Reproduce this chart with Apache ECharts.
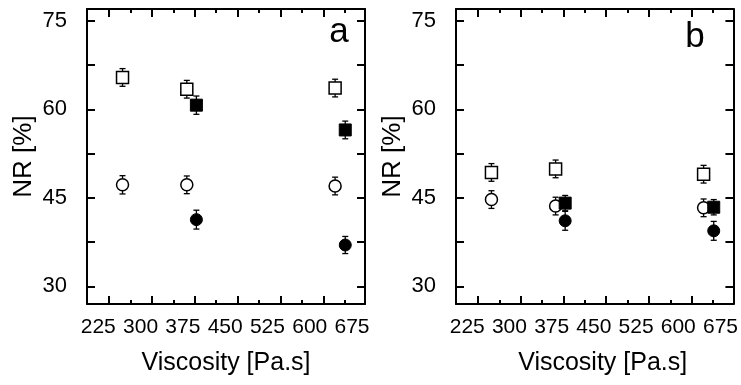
<!DOCTYPE html>
<html>
<head>
<meta charset="utf-8">
<script src="https://cdn.jsdelivr.net/npm/echarts@6/dist/echarts.min.js"></script>
<style>
    html, body { margin: 0; padding: 0; background: #fff; }
    #chart { width: 741px; height: 385px; }
</style>
</head>
<body>
<div id="chart"></div>
<script>
    // viscosity of the samples [Pa.s]
    const viscOpen = [268, 382, 645]
    const viscFilled = [399, 663]

    // panel a, NR [%] and error
    const aOpenSquare = [65.4, 63.4, 63.6]
    const aOpenSquareErr = [1.5, 1.5, 1.5]
    const aOpenCircle = [47.2, 47.2, 47.0]
    const aOpenCircleErr = [1.55, 1.5, 1.5]
    const aFilledSquare = [60.7, 56.5]
    const aFilledSquareErr = [1.55, 1.5]
    const aFilledCircle = [41.3, 37.0]
    const aFilledCircleErr = [1.6, 1.45]

    // panel b
    const bOpenSquare = [49.3, 49.9, 49.0]
    const bOpenSquareErr = [1.5, 1.5, 1.5]
    const bOpenCircle = [44.7, 43.6, 43.3]
    const bOpenCircleErr = [1.5, 1.5, 1.5]
    const bFilledSquare = [44.1, 43.4]
    const bFilledSquareErr = [1.3, 1.3]
    const bFilledCircle = [41.1, 39.4]
    const bFilledCircleErr = [1.6, 1.6]

    // axes
    const xLabels = [225, 300, 375, 450, 525, 600, 675]
    const xMajorTicks = [243, 320, 396, 472, 548, 624]
    const xMinorTicks = [282, 358, 434, 510, 586, 662]
    const yLabels = [30, 45, 60, 75]
    const yTicks = [30, 37.5, 45, 52.5, 60, 67.5, 75]

    const font = '"Liberation Sans", Arial, sans-serif'
    const narrowFont = '"Liberation Sans Narrow", "Arial Narrow", "Liberation Sans", Arial, sans-serif'
    const axisLine = {show: true, onZero: false, lineStyle: {color: '#000', width: 2}}
    const noLine = {show: false, onZero: false}

    const grids = [
        {left: 87, top: 9, width: 278, height: 295},
        {left: 456, top: 9, width: 279, height: 295}
    ]

    const xAxes = []
    const yAxes = []
    grids.forEach((g, i) => {
        const base = {type: 'value', gridIndex: i, min: 205, max: 698, splitLine: {show: false}}
        // bottom: labels + long ticks
        xAxes.push(Object.assign({}, base, {
            position: 'bottom',
            axisLine: axisLine,
            axisTick: {show: true, inside: true, length: 8, customValues: xMajorTicks, lineStyle: {color: '#000', width: 2}},
            axisLabel: {show: true, customValues: xLabels, margin: 13, color: '#000', fontSize: 21, fontFamily: narrowFont},
            name: 'Viscosity [Pa.s]',
            nameLocation: 'middle',
            nameGap: 47,
            nameTextStyle: {color: '#000', fontSize: 25, fontFamily: font, padding: i === 1 ? [0, 0, 0, 16] : 0}
        }))
        // bottom: short ticks
        xAxes.push(Object.assign({}, base, {
            position: 'bottom',
            axisLine: noLine,
            axisTick: {show: true, inside: true, length: 4, customValues: xMinorTicks, lineStyle: {color: '#000', width: 2}},
            axisLabel: {show: false}
        }))
        // top
        xAxes.push(Object.assign({}, base, {
            position: 'top',
            axisLine: axisLine,
            axisTick: {show: true, inside: true, length: 8, customValues: xMajorTicks, lineStyle: {color: '#000', width: 2}},
            axisLabel: {show: false}
        }))
        xAxes.push(Object.assign({}, base, {
            position: 'top',
            axisLine: noLine,
            axisTick: {show: true, inside: true, length: 4, customValues: xMinorTicks, lineStyle: {color: '#000', width: 2}},
            axisLabel: {show: false}
        }))

        const ybase = {type: 'value', gridIndex: i, min: 27, max: 77, splitLine: {show: false}}
        yAxes.push(Object.assign({}, ybase, {
            position: 'left',
            axisLine: axisLine,
            axisTick: {show: true, inside: true, length: 8, customValues: yTicks, lineStyle: {color: '#000', width: 2}},
            axisLabel: {show: true, customValues: yLabels, margin: 20, color: '#000', fontSize: 22, fontFamily: font},
            name: 'NR [%]',
            nameLocation: 'middle',
            nameGap: 50,
            nameTextStyle: {color: '#000', fontSize: 26, fontFamily: font}
        }))
        yAxes.push(Object.assign({}, ybase, {
            position: 'right',
            axisLine: axisLine,
            axisTick: {show: true, inside: true, length: 8, customValues: yTicks, lineStyle: {color: '#000', width: 2}},
            axisLabel: {show: false}
        }))
    })

    function errData(xs, ys, es) {
        return xs.map((x, k) => [x, ys[k] - es[k], ys[k] + es[k]])
    }

    function renderErr(params, api) {
        const hi = api.coord([api.value(0), api.value(2)])
        const lo = api.coord([api.value(0), api.value(1)])
        const c = 3
        const s = {stroke: '#000', lineWidth: 1.3}
        return {type: 'group', children: [
            {type: 'line', shape: {x1: hi[0], y1: hi[1], x2: lo[0], y2: lo[1]}, style: s},
            {type: 'line', shape: {x1: hi[0] - c, y1: hi[1], x2: hi[0] + c, y2: hi[1]}, style: s},
            {type: 'line', shape: {x1: lo[0] - c, y1: lo[1], x2: lo[0] + c, y2: lo[1]}, style: s}
        ]}
    }

    const openStyle = {color: '#fff', borderColor: '#000', borderWidth: 1.5, opacity: 1}
    const filledStyle = {color: '#000', borderColor: '#000', borderWidth: 1, opacity: 1}

    const series = []
    const panels = [
        [aOpenSquare, aOpenSquareErr, aOpenCircle, aOpenCircleErr, aFilledSquare, aFilledSquareErr, aFilledCircle, aFilledCircleErr],
        [bOpenSquare, bOpenSquareErr, bOpenCircle, bOpenCircleErr, bFilledSquare, bFilledSquareErr, bFilledCircle, bFilledCircleErr]
    ]
    panels.forEach((p, i) => {
        const xi = i * 4
        const yi = i * 2
        const groups = [
            {x: viscOpen, y: p[0], e: p[1], symbol: 'rect', style: openStyle},
            {x: viscOpen, y: p[2], e: p[3], symbol: 'circle', style: openStyle},
            {x: viscFilled, y: p[4], e: p[5], symbol: 'rect', style: filledStyle},
            {x: viscFilled, y: p[6], e: p[7], symbol: 'circle', style: filledStyle}
        ]
        groups.forEach(gr => {
            series.push({
                type: 'custom', xAxisIndex: xi, yAxisIndex: yi, z: 1,
                encode: {x: 0, y: [1, 2]},
                data: errData(gr.x, gr.y, gr.e),
                renderItem: renderErr
            })
        })
        groups.forEach(gr => {
            series.push({
                type: 'scatter', xAxisIndex: xi, yAxisIndex: yi, z: 3,
                symbol: gr.symbol, symbolSize: 12,
                itemStyle: gr.style,
                data: gr.x.map((x, k) => [x, gr.y[k]])
            })
        })
    })

    const mychart = echarts.init(document.getElementById('chart'))
    mychart.setOption({
        animation: false,
        backgroundColor: '#fff',
        grid: grids,
        xAxis: xAxes,
        yAxis: yAxes,
        graphic: [
            {type: 'text', x: 339, y: 15, style: {text: 'a', fill: '#000', fontSize: 35, fontFamily: font, textAlign: 'center', textVerticalAlign: 'top'}},
            {type: 'text', x: 695, y: 20, style: {text: 'b', fill: '#000', fontSize: 35, fontFamily: font, textAlign: 'center', textVerticalAlign: 'top'}}
        ],
        series: series
    })
</script>
</body>
</html>
